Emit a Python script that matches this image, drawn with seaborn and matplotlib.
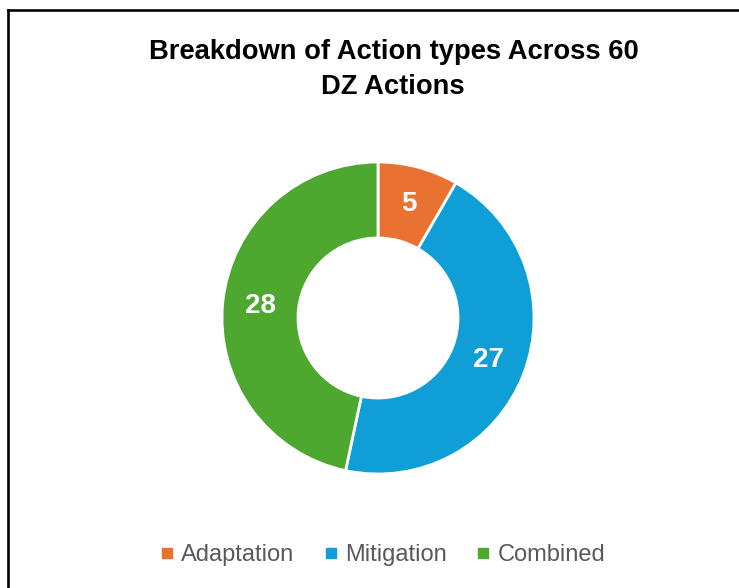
import matplotlib
matplotlib.use("Agg")
import matplotlib.pyplot as plt
from matplotlib.lines import Line2D
import seaborn as sns

categories = ["Adaptation", "Mitigation", "Combined"]
values = [5, 27, 28]
colors = ["#E97132", "#0F9ED5", "#4EA72E"]
title_lines = ["Breakdown of Action types Across 60", "DZ Actions"]

sns.set_theme(style="white")
plt.rcParams["font.family"] = ["Liberation Sans", "DejaVu Sans"]

W, H = 739, 588
fig = plt.figure(figsize=(W / 100, H / 100), dpi=100)
fig.patch.set_facecolor("white")

# frame lines (left and top)
fig.add_artist(Line2D([7.5 / W, 7.5 / W], [0, 1 - 10 / H], color="black", lw=1.9,
                      transform=fig.transFigure, solid_capstyle="projecting"))
fig.add_artist(Line2D([7.5 / W, 1], [1 - 10 / H, 1 - 10 / H], color="black", lw=1.9,
                      transform=fig.transFigure, solid_capstyle="projecting"))

cx, cy, R = 378, 318, 156
ax = fig.add_axes([(cx - R) / W, 1 - (cy + R) / H, 2 * R / W, 2 * R / H])
wedges, texts = ax.pie(values, colors=colors, startangle=90, counterclock=False,
                       radius=1.0, labels=[str(v) for v in values], labeldistance=0.757,
                       wedgeprops=dict(width=0.487, edgecolor="white", linewidth=2.0),
                       textprops=dict(color="white", fontsize=20, fontweight="bold"))
for t in texts:
    t.set_ha("center")
    t.set_va("center")
ax.set_xlim(-1, 1)
ax.set_ylim(-1, 1)
ax.axis("off")

fig.text(394 / W, 1 - 52 / H, title_lines[0], ha="center", va="center",
         fontsize=19.7, fontweight="bold", color="black")
fig.text(393 / W, 1 - 87 / H, title_lines[1], ha="center", va="center",
         fontsize=19.7, fontweight="bold", color="black")

handles = [Line2D([], [], marker="s", linestyle="none", markersize=6.5,
                  markerfacecolor=c, markeredgecolor=c) for c in colors]
leg = fig.legend(handles, categories, loc="center", bbox_to_anchor=(383 / W, 1 - 555 / H),
                 ncol=3, frameon=False, fontsize=17, handlelength=0.5, handletextpad=0.35,
                 columnspacing=1.3, labelcolor="#595959")

fig.savefig("out.png", dpi=100, facecolor="white")
